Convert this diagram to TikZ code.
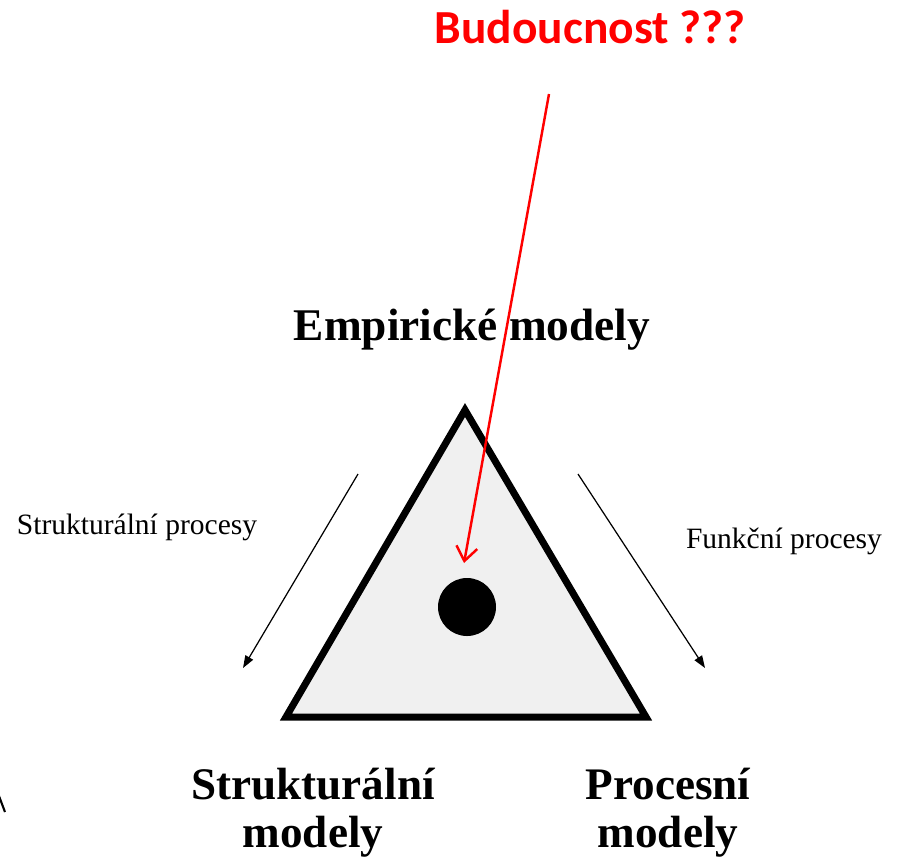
\documentclass[tikz,border=0pt]{standalone}
\usepackage{fontspec}
\setmainfont{Liberation Serif}
\newfontfamily\calibri{Carlito}
\usepackage{tikz}
\usetikzlibrary{arrows.meta,positioning}
\definecolor{trifill}{RGB}{240,240,240}

\tikzset{
    cornerlabel/.style={anchor=base,align=center,font=\fontsize{25.7}{27.2}\selectfont\bfseries},
    proclabel/.style={anchor=base,font=\fontsize{16.8}{19}\selectfont},
    procarrow/.style={line width=0.7pt,-{Triangle[length=7pt,width=5pt]}}
}

\begin{document}
\begin{tikzpicture}[x=0.02cm,y=-0.02cm]
    \useasboundingbox (0,0) rectangle (898,856);

    % Title
    \node[anchor=base,text=red,font=\calibri\fontsize{27}{30}\selectfont\bfseries]
        (budoucnost) at (590,43) {Budoucnost ???};

    % Triangle
    \coordinate (apex) at (465,410);
    \coordinate (bl) at (286,717);
    \coordinate (br) at (646,717);
    \draw[line width=4pt,fill=trifill] (apex) -- (bl) -- (br) -- cycle;
    \node[circle,fill=black,minimum size=58*0.02cm,inner sep=0pt] (dot) at (467,607) {};

    % Corner labels
    \node[cornerlabel,font=\fontsize{25.8}{28}\selectfont\bfseries] (empir) at (472,340) {Empirické modely};
    \node[cornerlabel] (strmod) at (313,847) {Strukturální\\modely};
    \node[cornerlabel] (procmod) at (668,847) {Procesní\\modely};

    % Side processes
    \node[proclabel] (strproc) at (137,534) {Strukturální procesy};
    \node[proclabel] (funkproc) at (784,548) {Funkční procesy};
    \coordinate (sa) at (358,474);
    \coordinate (sb) at (243,668);
    \coordinate (fa) at (578,474);
    \coordinate (fb) at (705,668);
    \draw[procarrow] (sa) -- (sb);
    \draw[procarrow] (fa) -- (fb);

    % Red arrow
    \coordinate (redstart) at (549,94);
    \coordinate (redtip) at (464,563);
    \draw[red,line width=1.4pt,-{Straight Barb[length=8pt,width=12pt]}] (redstart) -- (redtip);

    % Cut-off stroke at the left edge
    \draw[line width=1.2pt] (-1,796) -- (5,812);
\end{tikzpicture}
\end{document}
